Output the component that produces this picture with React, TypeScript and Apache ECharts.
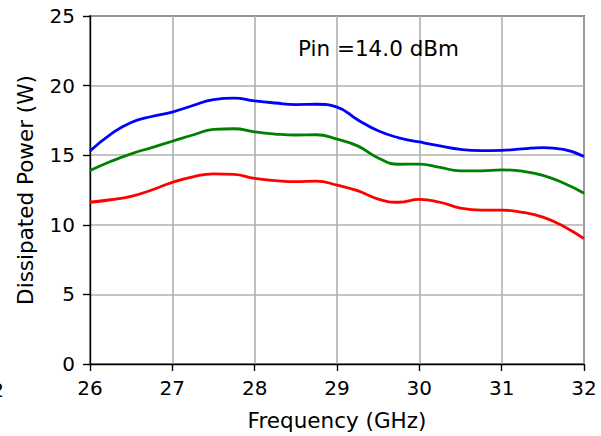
import React, { useEffect, useRef } from "react";
import * as echarts from "echarts";

const freqs = [26, 26.25, 26.5, 26.75, 27, 27.25, 27.5, 27.75, 28, 28.25, 28.5, 28.75, 29, 29.25, 29.5, 29.75, 30, 30.25, 30.5, 30.75, 31, 31.25, 31.5, 31.75, 32];
const blueVals = [15.3, 16.5, 17.35, 17.78, 18.1, 18.57, 19.0, 19.1, 18.9, 18.75, 18.64, 18.66, 18.45, 17.55, 16.75, 16.25, 15.95, 15.67, 15.42, 15.33, 15.35, 15.45, 15.55, 15.42, 14.9];
const greenVals = [13.9, 14.55, 15.1, 15.55, 16.0, 16.45, 16.85, 16.9, 16.67, 16.52, 16.45, 16.47, 16.15, 15.67, 14.8, 14.35, 14.36, 14.12, 13.88, 13.88, 13.95, 13.85, 13.55, 13.0, 12.27];
const redVals = [11.62, 11.8, 12.05, 12.5, 13.05, 13.45, 13.66, 13.62, 13.33, 13.18, 13.1, 13.14, 12.85, 12.45, 11.85, 11.62, 11.82, 11.62, 11.2, 11.05, 11.05, 10.9, 10.55, 9.9, 9.0];

const xLabel = "Frequency (GHz)";
const yLabel = "Dissipated Power (W)";
const annotation = "Pin =14.0 dBm";

const FONT = "DejaVu Sans";

export default function App() {
  const ref = useRef<HTMLDivElement>(null);
  useEffect(() => {
    if (!ref.current) return;
    const chart = echarts.init(ref.current, null, { renderer: "svg" });
    const mk = (vals: number[], color: string) => ({
      type: "line",
      data: freqs.map((f, i) => [f, vals[i]]),
      smooth: 0.5,
      showSymbol: false,
      symbol: "none",
      lineStyle: { color, width: 2.8 },
      z: 3,
    });
    chart.setOption({
      animation: false,
      backgroundColor: "#ffffff",
      grid: {
        left: 90,
        right: 17,
        top: 16,
        bottom: 70,
        show: true,
        borderColor: "#000000",
        borderWidth: 1.4,
        backgroundColor: "transparent",
      },
      xAxis: {
        type: "value",
        min: 26,
        max: 32,
        interval: 1,
        name: xLabel,
        nameLocation: "middle",
        nameGap: 45,
        nameTextStyle: { fontFamily: FONT, fontSize: 21.5, color: "#000" },
        axisLine: { show: true, lineStyle: { color: "#000", width: 1.4 } },
        axisTick: { show: true, length: 7, lineStyle: { color: "#000", width: 1.4 } },
        axisLabel: { fontFamily: FONT, fontSize: 20, color: "#000", margin: 14 },
        splitLine: { show: true, lineStyle: { color: "#b0b0b0", width: 1.6 } },
      },
      yAxis: {
        type: "value",
        min: 0,
        max: 25,
        interval: 5,
        name: yLabel,
        nameLocation: "middle",
        nameRotate: 90,
        nameGap: 54,
        nameTextStyle: { fontFamily: FONT, fontSize: 21.5, color: "#000" },
        axisLine: { show: true, lineStyle: { color: "#000", width: 1.4 } },
        axisTick: { show: true, length: 7, lineStyle: { color: "#000", width: 1.4 } },
        axisLabel: { fontFamily: FONT, fontSize: 20, color: "#000", margin: 15 },
        splitLine: { show: true, lineStyle: { color: "#b0b0b0", width: 1.6 } },
      },
      graphic: [
        {
          type: "text",
          x: 298,
          y: 48,
          style: {
            text: annotation,
            fontFamily: FONT,
            fontSize: 21.5,
            fill: "#000",
            verticalAlign: "middle",
            align: "left",
          },
          z: 10,
        },
        {
          type: "text",
          x: 4,
          y: 390,
          style: {
            text: "2",
            fontFamily: FONT,
            fontSize: 20,
            fill: "#000",
            verticalAlign: "middle",
            align: "right",
          },
        },
      ],
      series: [mk(blueVals, "#0000ff"), mk(greenVals, "#008000"), mk(redVals, "#ff0000")],
    });
    return () => chart.dispose();
  }, []);
  return (
    <div
      ref={ref}
      style={{ position: "fixed", left: 0, top: 0, width: 601, height: 436 }}
    />
  );
}
